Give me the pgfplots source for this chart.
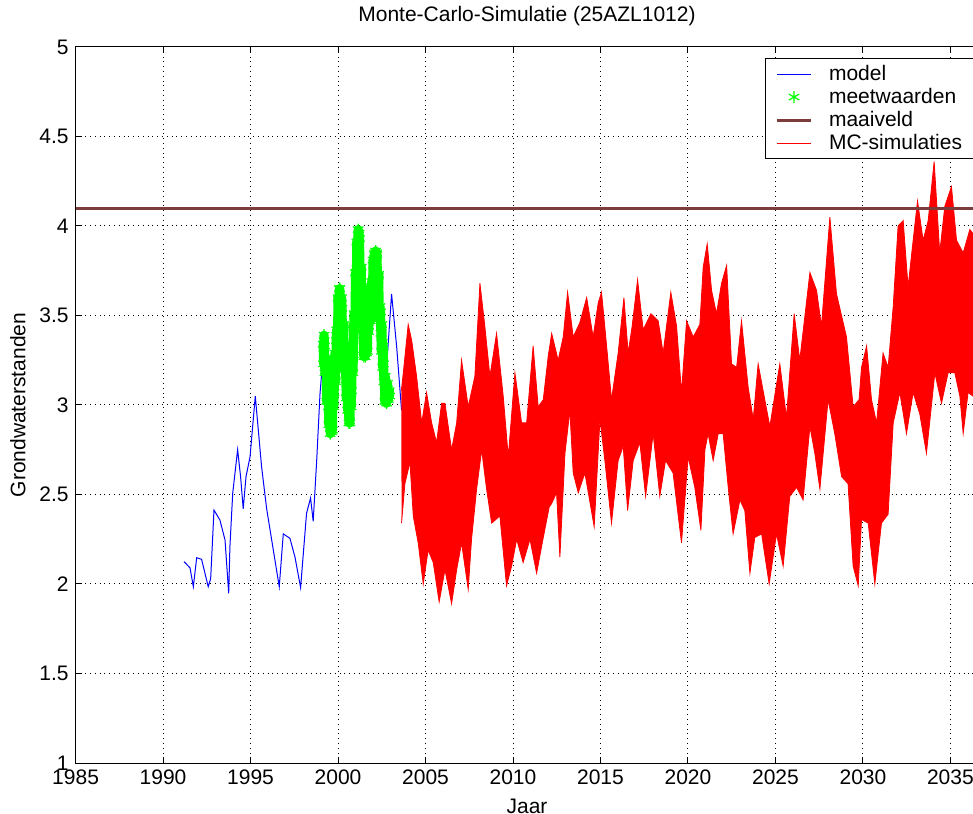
\documentclass[border=0pt]{standalone}
\usepackage{fontspec}
\setmainfont{Liberation Sans}
\usepackage{pgfplots}
\usepackage{pgfplotstable}
\pgfplotsset{compat=1.18}
\definecolor{maai}{RGB}{125,60,60}
\definecolor{mgreen}{RGB}{0,255,0}
\newcommand{\ff}{\fontsize{10.5}{12}\selectfont}
\pgfplotstableread{
x y
1999.15 3.34
1999.175 3.23
1999.20 3.39
1999.225 3.33
1999.25 3.18
1999.275 3.19
1999.30 3.24
1999.325 3.26
1999.35 3.02
1999.375 3.04
1999.40 3.11
1999.425 3.09
1999.45 2.99
1999.475 2.89
1999.50 3.05
1999.525 2.96
1999.55 2.84
1999.575 2.96
1999.60 2.87
1999.625 2.85
1999.65 2.86
1999.675 2.86
1999.70 3.05
1999.725 3.07
1999.75 2.99
1999.775 3.07
1999.80 3.20
1999.825 3.29
1999.85 3.13
1999.875 3.22
1999.90 3.36
1999.925 3.42
1999.95 3.39
1999.975 3.36
2000.00 3.60
2000.025 3.59
2000.05 3.53
2000.075 3.65
2000.10 3.65
2000.125 3.56
2000.15 3.57
2000.175 3.46
2000.20 3.60
2000.225 3.54
2000.25 3.39
2000.275 3.38
2000.30 3.43
2000.325 3.45
2000.35 3.20
2000.375 3.21
2000.40 3.28
2000.425 3.26
2000.45 3.14
2000.475 3.04
2000.50 3.20
2000.525 3.10
2000.55 2.97
2000.575 3.09
2000.60 3.00
2000.625 2.90
2000.65 2.91
2000.675 2.90
2000.70 3.02
2000.725 3.05
2000.75 2.99
2000.775 3.08
2000.80 3.22
2000.825 3.33
2000.85 3.18
2000.875 3.28
2000.90 3.44
2000.925 3.51
2000.95 3.50
2000.975 3.49
2001.00 3.74
2001.025 3.74
2001.05 3.70
2001.075 3.91
2001.10 3.91
2001.125 3.90
2001.15 3.98
2001.175 3.95
2001.20 3.96
2001.225 3.93
2001.25 3.76
2001.275 3.74
2001.30 3.77
2001.325 3.77
2001.35 3.52
2001.375 3.51
2001.40 3.56
2001.425 3.52
2001.45 3.39
2001.475 3.27
2001.50 3.41
2001.525 3.31
2001.55 3.27
2001.575 3.36
2001.60 3.32
2001.625 3.29
2001.65 3.36
2001.675 3.30
2001.70 3.51
2001.725 3.50
2001.75 3.41
2001.775 3.47
2001.80 3.57
2001.825 3.65
2001.85 3.47
2001.875 3.53
2001.90 3.66
2001.925 3.69
2001.95 3.64
2001.975 3.60
2002.00 3.81
2002.025 3.78
2002.05 3.71
2002.075 3.84
2002.10 3.85
2002.125 3.80
2002.15 3.86
2002.175 3.80
2002.20 3.85
2002.225 3.84
2002.25 3.68
2002.275 3.67
2002.30 3.72
2002.325 3.73
2002.35 3.48
2002.375 3.49
2002.40 3.55
2002.425 3.52
2002.45 3.40
2002.475 3.30
2002.50 3.45
2002.525 3.35
2002.55 3.21
2002.575 3.33
2002.60 3.23
2002.625 3.13
2002.65 3.13
2002.675 3.02
2002.70 3.16
2002.725 3.11
2002.75 3.03
2002.775 3.01
2002.80 3.07
2002.825 3.12
2002.85 3.04
2002.875 3.03
2002.90 3.07
2002.925 3.08
2002.95 3.05
}\meet
\begin{document}
\begin{tikzpicture}
\begin{axis}[
  scale only axis, width=451.4pt, height=358pt,
  xmin=1985, xmax=2036.6, ymin=1, ymax=5,
  xtick={1985,1990,...,2035}, ytick={1,1.5,2,2.5,3,3.5,4,4.5,5},
  /pgf/number format/assume math mode=true,
  xticklabel style={/pgf/number format/1000 sep=},
  tick label style={font=\ff, black},
  label style={font=\ff},
  title style={font=\ff, at={(0.5,1)}, anchor=south, yshift=1pt},
  title={Monte-Carlo-Simulatie (25AZL1012)},
  xlabel={Jaar}, ylabel={Grondwaterstanden},
  grid=major, grid style={dotted, black, line width=0.5pt},
  major tick length=3pt, tick style={black, line width=0.5pt},
  axis line style={black, line width=0.5pt},
  legend style={at={(0.7636,0.9846)}, anchor=north west, draw=black, line width=0.5pt,
    font=\ff, row sep=0pt, inner xsep=5pt, inner ysep=2pt, nodes={inner sep=1.2pt},
    /tikz/every odd column/.append style={column sep=7pt}},
  legend cell align=left,
]
% model
\addplot[blue, line width=0.5pt] coordinates {
(1991.2,2.125) (1991.54,2.09) (1991.73,1.985) (1991.92,2.147) (1992.2,2.138) (1992.58,1.985)
(1992.72,2.03) (1992.91,2.413) (1993.25,2.357) (1993.54,2.246) (1993.75,1.948) (1993.82,2.21)
(1993.98,2.507) (1994.26,2.75) (1994.43,2.6) (1994.58,2.42) (1994.74,2.6) (1994.97,2.71)
(1995.27,3.05) (1995.63,2.655) (1995.92,2.42) (1996.3,2.19) (1996.64,1.985) (1996.87,2.28)
(1997.25,2.255) (1997.54,2.15) (1997.86,1.98) (1998.2,2.395) (1998.43,2.48) (1998.58,2.35)
(1998.78,2.69) (1998.97,3.065) (1999.21,3.345) (1999.63,2.9) (2000.08,3.55) (2000.68,2.95)
(2001.15,3.9) (2001.54,3.3) (2002.15,3.8) (2002.6,3.1) (2002.83,3.29) (2003.06,3.62)
(2003.35,3.326) (2003.63,2.97)
};
\addlegendentry{model}
% meetwaarden (dense cloud of asterisks)
\addplot[mgreen, line width=4.6pt, line join=round, line cap=round, forget plot] table[x=x,y=y] {\meet};
\addplot[only marks, mark=asterisk, mark size=3pt, color=mgreen, mark options={line width=0.6pt}] table[x=x,y=y] {\meet};
\addlegendentry{meetwaarden}
% MC-simulaties (band)
\addplot[fill=red, draw=red, line width=0.4pt, forget plot] coordinates {
(2003.62,3.08) (2003.73,3.18) (2004.01,3.45) (2004.21,3.36) (2004.49,3.16) (2004.78,2.90)
(2005.06,3.07) (2005.35,2.90) (2005.63,2.79) (2005.92,3.01) (2006.11,3.01) (2006.49,2.75)
(2006.78,2.90) (2007.06,3.25) (2007.44,2.99) (2007.82,3.16) (2008.11,3.68) (2008.39,3.44)
(2008.68,3.16) (2009.06,3.40) (2009.44,3.05) (2009.73,2.71) (2010.11,3.18) (2010.49,2.90)
(2010.78,2.90) (2011.15,3.33) (2011.44,2.99) (2011.73,3.03) (2012.01,3.27) (2012.21,3.40)
(2012.58,3.25) (2012.87,3.38) (2013.12,3.63) (2013.44,3.38) (2013.82,3.46) (2014.21,3.60)
(2014.58,3.38) (2014.87,3.57) (2015.06,3.63) (2015.35,3.33) (2015.63,3.03) (2016.01,3.29)
(2016.34,3.60) (2016.58,3.29) (2016.81,3.44) (2017.12,3.70) (2017.44,3.42) (2017.88,3.51)
(2018.30,3.47) (2018.58,3.29) (2019.02,3.63) (2019.35,3.44) (2019.63,3.07) (2019.92,3.47)
(2020.30,3.38) (2020.68,3.45) (2020.87,3.77) (2021.10,3.90) (2021.35,3.64) (2021.63,3.51)
(2021.92,3.68) (2022.21,3.78) (2022.49,3.23) (2022.78,3.21) (2023.06,3.47) (2023.44,3.10)
(2023.73,2.92) (2024.01,3.23) (2024.39,3.03) (2024.68,2.88) (2025.25,3.23) (2025.63,2.93)
(2026.07,3.51) (2026.39,3.25) (2026.97,3.74) (2027.35,3.64) (2027.63,3.44) (2028.11,4.05)
(2028.49,3.62) (2029.06,3.38) (2029.44,2.99) (2029.78,3.03) (2029.92,3.21) (2030.21,3.33)
(2030.49,3.03) (2030.78,2.90) (2031.15,3.29) (2031.44,3.21) (2031.73,3.55) (2032.01,4.00)
(2032.30,4.03) (2032.58,3.66) (2032.87,3.92) (2033.12,4.14) (2033.44,3.92) (2033.73,4.03)
(2034.07,4.36) (2034.39,3.85) (2034.68,4.11) (2035.06,4.22) (2035.35,3.92) (2035.73,3.85)
(2036.11,3.98) (2036.6,3.92)
(2036.6,3.05) (2036.28,3.05) (2036.01,3.07) (2035.73,2.84) (2035.54,3.05) (2035.25,3.18)
(2034.87,3.18) (2034.49,3.01) (2034.11,3.18) (2033.63,2.73) (2033.25,2.95) (2032.87,3.07)
(2032.49,2.84) (2032.11,3.07) (2031.73,2.90) (2031.44,2.39) (2031.06,2.34) (2030.68,2.00)
(2030.30,2.34) (2029.92,2.36) (2029.73,1.99) (2029.44,2.10) (2029.15,2.56) (2028.78,2.60)
(2028.39,2.84) (2028.01,3.03) (2027.54,2.53) (2027.25,2.73) (2026.97,2.88) (2026.58,2.47)
(2026.21,2.54) (2025.82,2.49) (2025.44,2.10) (2025.06,2.28) (2024.64,2.00) (2024.21,2.28)
(2023.82,2.26) (2023.54,2.06) (2023.25,2.41) (2022.97,2.47) (2022.58,2.28) (2022.30,2.54)
(2022.01,2.84) (2021.73,2.84) (2021.44,2.69) (2021.15,2.84) (2020.97,2.75) (2020.74,2.30)
(2020.39,2.54) (2020.01,2.71) (2019.63,2.23) (2019.15,2.62) (2018.72,2.69) (2018.39,2.49)
(2018.01,2.84) (2017.58,2.49) (2017.25,2.79) (2016.87,2.69) (2016.55,2.41) (2016.30,2.77)
(2016.01,2.69) (2015.63,2.34) (2015.25,2.69) (2014.97,2.92) (2014.64,2.32) (2014.11,2.62)
(2013.73,2.51) (2013.44,2.62) (2013.25,2.97) (2012.97,2.73) (2012.68,2.15) (2012.49,2.51)
(2012.21,2.45) (2012.07,2.43) (2011.73,2.26) (2011.35,2.06) (2010.97,2.25) (2010.58,2.12)
(2010.21,2.25) (2009.92,2.10) (2009.63,1.99) (2009.25,2.38) (2008.78,2.34) (2008.49,2.53)
(2008.21,2.75) (2007.92,2.53) (2007.63,2.25) (2007.44,1.97) (2007.06,2.23) (2006.78,2.08)
(2006.49,1.89) (2006.11,2.08) (2005.78,1.90) (2005.44,2.12) (2005.15,2.19) (2004.87,2.00)
(2004.58,2.23) (2004.30,2.38) (2004.11,2.68) (2003.82,2.56) (2003.63,2.34)
};
% maaiveld
\addplot[maai, line width=1.5pt] coordinates {(1985,4.1) (2036.6,4.1)};
\addlegendentry{maaiveld}
\addlegendimage{red, line width=0.4pt}
\addlegendentry{\makebox[80pt][l]{MC-simulaties}}
\end{axis}
\pgfresetboundingbox
\path[use as bounding box] ([xshift=-37.8pt,yshift=-25pt]current axis.south west) rectangle ([xshift=448.7pt,yshift=23.5pt]current axis.north west);
\end{tikzpicture}
\end{document}
